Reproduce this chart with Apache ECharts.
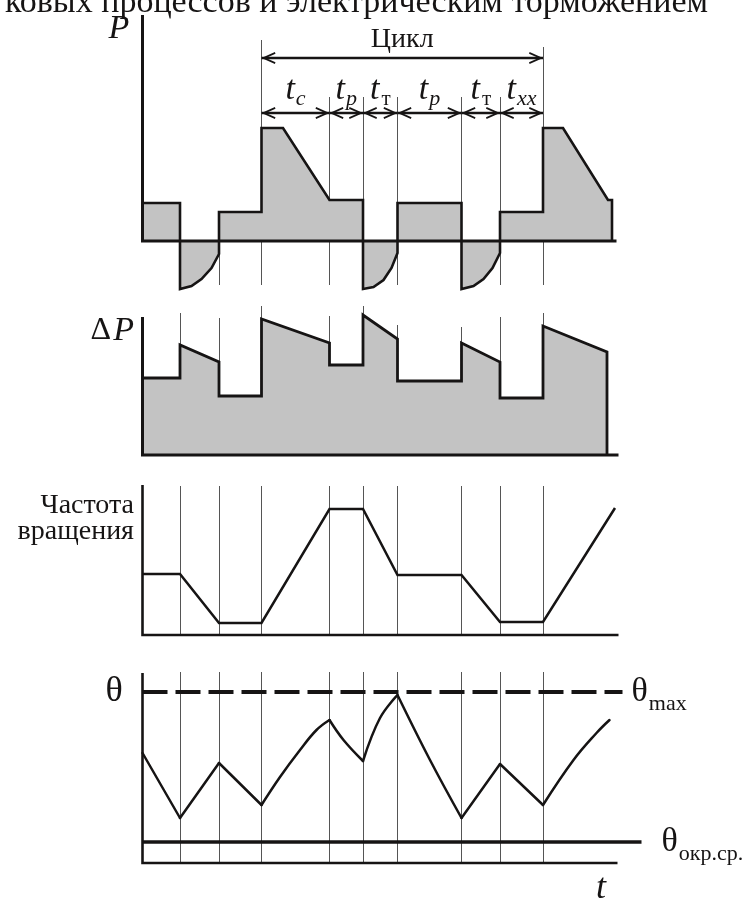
<!DOCTYPE html>
<html><head><meta charset="utf-8">
<script src="https://cdn.jsdelivr.net/npm/echarts@6/dist/echarts.min.js"></script>
<style>html,body{margin:0;padding:0;background:#fff;}#c{width:753px;height:907px;}</style>
</head><body><div id="c"></div>
<script>
// ---------- data ----------
const phaseT = [0, 37.5, 76.5, 119, 187, 220.5, 255, 319, 357.5, 400.5];   // phase boundaries (time)
const axisEnd = [474, 476, 476, 475];     // end of each time axis
const axisTop = [22.6, 13.8, 15, 19];     // height of each vertical axis
// P : power
const power = [
  [0,3.8],[37.5,3.8],[37.5,-4.8],[49,-4.5],[59,-3.8],[69,-2.7],[76.5,-1.3],[76.5,2.9],
  [119,2.9],[119,11.3],[140.5,11.3],[187,4.1],[220.5,4.1],
  [220.5,-4.8],[231,-4.6],[241,-3.9],[249,-2.7],[255,-1.2],[255,3.8],
  [319,3.8],[319,-4.8],[331,-4.5],[341,-3.8],[350,-2.7],[357.5,-1.2],[357.5,2.9],
  [400.5,2.9],[400.5,11.3],[420.5,11.3],[465.5,4.1],[469.5,4.1],[469.5,0]
];
const powerGuideTop = [null, 0, 20.1, 14.4, 14.4, 14.4, 14.4, 14.4, 19.4]; // for phaseT[1..9]
const powerGuideBottom = -4.4;
const cycleLevel = 18.3;
const phaseArrowLevel = 12.8;
const phaseLabels = [['t','c'],['t','p'],['t','т'],['t','p'],['t','т'],['t','xx']];
const cycleLabel = 'Цикл';
// ΔP : losses
const loss = [
  [0,7.7],[37.5,7.7],[37.5,11.0],[76.5,9.3],[76.5,5.9],[119,5.9],[119,13.6],[187,11.2],
  [187,9.0],[220.5,9.0],[220.5,14.0],[255,11.6],[255,7.4],[319,7.4],[319,11.2],[357.5,9.3],
  [357.5,5.7],[400.5,5.7],[400.5,12.9],[464.5,10.3],[464.5,0]
];
const lossGuideTop = [14.2, 13.7, 14.9, 13.9, 14.9, 13.0, 12.8, 13.8, 14.2];
// rotation speed
const speed = [
  [0,6.1],[37.5,6.1],[76.5,1.2],[119,1.2],[187,12.6],[220.5,12.6],[255,6.0],[319,6.0],
  [357.5,1.3],[400.5,1.3],[472.5,12.7]
];
const speedGuideTop = 14.9;
// θ : temperature
const temp = [
  [0,11.0],[37.5,4.5],[76.5,10.0],[119,5.8],[137.5,8.6],[157.5,11.3],[174,13.3],[187,14.3],
  [201,12.3],[220.5,10.2],[237.5,14.5],[255,16.8],[287.5,10.3],[319,4.5],[357.5,9.9],
  [400.5,5.8],[431,10.3],[454,13.0],[467,14.3]
];
const tempMax = 17.1, tempMaxEnd = 480;
const tempAmb = 2.1, tempAmbEnd = 499;
const tempGuideTop = 19.1;

// ---------- styling ----------
const BLACK = '#161414';
const FILL = '#c3c3c3';
const GUIDE = '#555555';
const SERIF = '"Liberation Serif", "DejaVu Serif", serif';
const ARROW = 'path://M0,-14L0,-14M0,0L6,13.4L4.3,14L0,4.4L-4.3,14L-6,13.4Z';

const grids = [
  {top: 15, height: 276, min: -5, max: 22.6},
  {top: 300, height: 155, min: 0, max: 15.5},
  {top: 485, height: 150, min: 0, max: 15},
  {top: 670, height: 193, min: 0, max: 19.3}
];

function guideLines(tops, bottom) {
  const out = [];
  for (let k = 1; k < phaseT.length; k++) {
    const top = Array.isArray(tops) ? tops[k - 1] : tops;
    if (top == null) continue;
    out.push([{coord: [phaseT[k], bottom]}, {coord: [phaseT[k], top]}]);
  }
  return out;
}

function axesSeries(i, guides) {
  return {
    type: 'line', xAxisIndex: i, yAxisIndex: i, silent: true, clip: false, z: 3,
    symbol: 'none', animation: false,
    data: [[0, axisTop[i]], [0, 0], [axisEnd[i], 0]],
    lineStyle: {color: BLACK, width: i >= 2 ? 2.6 : 3, join: 'miter'},
    markLine: {
      silent: true, z: 1, symbol: 'none', animation: false,
      label: {show: false},
      lineStyle: {color: GUIDE, width: 1, type: 'solid'},
      data: guides
    }
  };
}

const arrowData = [[{coord: [phaseT[3], cycleLevel]}, {coord: [phaseT[9], cycleLevel]}]];
for (let k = 3; k < 9; k++) {
  arrowData.push([{coord: [phaseT[k], phaseArrowLevel]}, {coord: [phaseT[k + 1], phaseArrowLevel]}]);
}

// split the temperature curve at the phase boundaries so each phase is its own smooth arc
const tempSegments = [];
let cur = [temp[0]];
for (let i = 1; i < temp.length; i++) {
  cur.push(temp[i]);
  if (phaseT.indexOf(temp[i][0]) >= 0) { tempSegments.push(cur); cur = [temp[i]]; }
}
if (cur.length > 1) tempSegments.push(cur);

const tempSeries = tempSegments.map(seg => ({
  type: 'line', xAxisIndex: 3, yAxisIndex: 3, data: seg, symbol: 'none', clip: false, z: 2,
  smooth: 0.4, silent: true,
  lineStyle: {color: BLACK, width: 2.5, cap: 'round', join: 'round'}
}));

const subStyle = {fontFamily: SERIF, fontSize: 22, lineHeight: 22, padding: [24, 0, 0, 1], color: BLACK};
const thetaStyle = {fontFamily: SERIF, fontSize: 34, lineHeight: 40, color: BLACK};

const option = {
  animation: false,
  backgroundColor: '#ffffff',
  grid: grids.map(g => ({left: 142.5, width: 500, top: g.top, height: g.height})),
  xAxis: grids.map((g, i) => ({type: 'value', gridIndex: i, min: 0, max: 500, show: false})),
  yAxis: grids.map((g, i) => ({type: 'value', gridIndex: i, min: g.min, max: g.max, show: false})),
  series: [
    axesSeries(0, guideLines(powerGuideTop, powerGuideBottom)),
    {
      type: 'line', xAxisIndex: 0, yAxisIndex: 0, data: power, symbol: 'none', clip: false, z: 2,
      lineStyle: {color: BLACK, width: 2.6, join: 'miter'},
      areaStyle: {color: FILL, opacity: 1, origin: 'auto'},
      markLine: {
        silent: true, symbol: [ARROW, ARROW], symbolSize: [12, 28],
        lineStyle: {color: BLACK, width: 2.3, type: 'solid'},
        label: {
          show: true, position: 'insideMiddleTop', distance: 3, color: BLACK,
          formatter: p => {
            if (p.dataIndex === 0) return '{c|' + cycleLabel + '}';
            const lab = phaseLabels[p.dataIndex - 1];
            const subKey = lab[1] === 'т' ? 'sn' : 's';
            return '{t|' + lab[0] + '}{' + subKey + '|' + lab[1] + '}';
          },
          rich: {
            c: {fontFamily: SERIF, fontSize: 28, lineHeight: 28, padding: [0, 0, 3, 0], color: BLACK},
            t: {fontFamily: SERIF, fontStyle: 'italic', fontSize: 34, lineHeight: 40, color: BLACK},
            s: {fontFamily: SERIF, fontStyle: 'italic', fontSize: 22, lineHeight: 22, padding: [18, 0, 0, 1], color: BLACK},
            sn: {fontFamily: SERIF, fontSize: 21, lineHeight: 22, padding: [18, 0, 0, 2], color: BLACK}
          }
        },
        data: arrowData
      }
    },
    axesSeries(1, guideLines(lossGuideTop, 0)),
    {
      type: 'line', xAxisIndex: 1, yAxisIndex: 1, data: loss, symbol: 'none', clip: false, z: 2,
      lineStyle: {color: BLACK, width: 2.8, join: 'miter'},
      areaStyle: {color: FILL, opacity: 1, origin: 'auto'}
    },
    axesSeries(2, guideLines(speedGuideTop, 0)),
    {
      type: 'line', xAxisIndex: 2, yAxisIndex: 2, data: speed, symbol: 'none', clip: false, z: 2,
      lineStyle: {color: BLACK, width: 2.5, join: 'miter'}
    },
    axesSeries(3, guideLines(tempGuideTop, 0)),
    ...tempSeries,
    {
      type: 'line', xAxisIndex: 3, yAxisIndex: 3, data: [[0, tempMax], [tempMaxEnd, tempMax]],
      symbol: 'none', clip: false, z: 2, silent: true,
      lineStyle: {color: BLACK, width: 4, type: [25, 8]},
      endLabel: {show: true, distance: 9, formatter: '{m|θ}{s|max}', rich: {m: thetaStyle, s: subStyle}}
    },
    {
      type: 'line', xAxisIndex: 3, yAxisIndex: 3, data: [[0, tempAmb], [tempAmbEnd, tempAmb]],
      symbol: 'none', clip: false, z: 2, silent: true,
      lineStyle: {color: BLACK, width: 3.5},
      endLabel: {show: true, distance: 20, formatter: '{m|θ}{s|окр.ср.}', rich: {m: thetaStyle, s: subStyle}}
    }
  ],
  graphic: [
    {type: 'text', x: 5, y: 3, silent: true,
     style: {text: 'ковых процессов и электрическим торможением', font: '34px ' + SERIF, fill: BLACK, textVerticalAlign: 'middle'}},
    {type: 'text', x: 119, y: 29, silent: true,
     style: {text: 'P', font: 'italic 34px ' + SERIF, fill: BLACK, textAlign: 'center', textVerticalAlign: 'middle'}},
    {type: 'text', x: 111, y: 331, silent: true,
     style: {text: 'Δ', font: '32px ' + SERIF, fill: BLACK, textAlign: 'right', textVerticalAlign: 'middle'}},
    {type: 'text', x: 134, y: 331, silent: true,
     style: {text: 'P', font: 'italic 34px ' + SERIF, fill: BLACK, textAlign: 'right', textVerticalAlign: 'middle'}},
    {type: 'text', x: 134, y: 506, silent: true,
     style: {text: 'Частота', font: '28px ' + SERIF, fill: BLACK, textAlign: 'right', textVerticalAlign: 'middle'}},
    {type: 'text', x: 134, y: 532, silent: true,
     style: {text: 'вращения', font: '28px ' + SERIF, fill: BLACK, textAlign: 'right', textVerticalAlign: 'middle'}},
    {type: 'text', x: 114, y: 692, silent: true,
     style: {text: 'θ', font: '36px ' + SERIF, fill: BLACK, textAlign: 'center', textVerticalAlign: 'middle'}},
    {type: 'text', x: 601, y: 889, silent: true,
     style: {text: 't', font: 'italic 36px ' + SERIF, fill: BLACK, textAlign: 'center', textVerticalAlign: 'middle'}}
  ]
};

const chart = echarts.init(document.getElementById('c'));
chart.setOption(option);
</script>
</body></html>
